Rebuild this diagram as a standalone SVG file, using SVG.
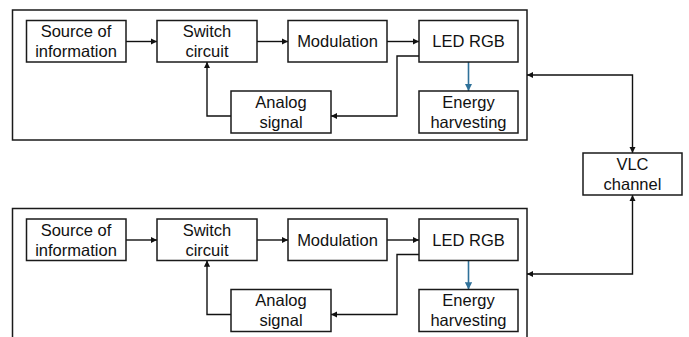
<svg xmlns="http://www.w3.org/2000/svg" width="689" height="337" viewBox="0 0 689 337">
<defs>
<marker id="ah" viewBox="0 0 10 10" refX="10" refY="5" markerWidth="4.5" markerHeight="4.5" orient="auto-start-reverse" markerUnits="strokeWidth">
<path d="M0,0 L10,5 L0,10 z" fill="#111"/>
</marker>
<marker id="ahb" viewBox="0 0 10 10" refX="10" refY="5" markerWidth="4.5" markerHeight="4.5" orient="auto" markerUnits="strokeWidth">
<path d="M0,0 L10,5 L0,10 z" fill="#2f7199"/>
</marker>
<style>
.box{fill:#fff;stroke:#1a1a1a;stroke-width:1.5}
.frame{fill:none;stroke:#1a1a1a;stroke-width:1.5}
.t{font-family:"Liberation Sans",Arial,sans-serif;font-size:16.5px;fill:#111;text-anchor:middle}
.c{fill:none;stroke:#111;stroke-width:1.4;marker-end:url(#ah)}
.d{fill:none;stroke:#111;stroke-width:1.4;marker-start:url(#ah);marker-end:url(#ah)}
.b{fill:none;stroke:#2f7199;stroke-width:1.6;marker-end:url(#ahb)}
</style>
</defs>
<rect width="689" height="337" fill="#fff"/>

<g id="frame-top"><rect class="frame" x="12.5" y="10" width="514.5" height="130"/></g>
<g id="frame-bottom"><rect class="frame" x="12.5" y="208.5" width="514.5" height="140"/></g>

<g id="connectors">
<path class="c" d="M126,41.5 H157"/>
<path class="c" d="M257,41.5 H288"/>
<path class="c" d="M387,41.5 H419"/>
<path class="c" d="M419,56 H397 V116 H331"/>
<path class="c" d="M231,116 H207 V62"/>
<path class="b" d="M468.5,62 V91"/>

<path class="c" d="M126,240 H157"/>
<path class="c" d="M257,240 H288"/>
<path class="c" d="M387,240 H419"/>
<path class="c" d="M419,254.5 H397 V314.5 H331"/>
<path class="c" d="M231,314.5 H207 V260.5"/>
<path class="b" d="M468.5,260.5 V289.5"/>

<path class="d" d="M527,75 H632.5 V153"/>
<path class="d" d="M527,274 H632.5 V195"/>
</g>

<g id="source-top"><rect class="box" x="26.5" y="20.5" width="99.5" height="41.5"/><text class="t" x="76" y="37">Source of</text><text class="t" x="76" y="57">information</text></g>
<g id="switch-top"><rect class="box" x="157" y="20.5" width="100" height="41.5"/><text class="t" x="207" y="37">Switch</text><text class="t" x="207" y="57">circuit</text></g>
<g id="modulation-top"><rect class="box" x="288" y="20.5" width="99" height="41.5"/><text class="t" x="337.5" y="47">Modulation</text></g>
<g id="led-top"><rect class="box" x="419" y="20.5" width="99" height="41.5"/><text class="t" x="468.5" y="47">LED RGB</text></g>
<g id="analog-top"><rect class="box" x="231" y="91" width="100" height="42"/><text class="t" x="281" y="107.5">Analog</text><text class="t" x="281" y="127.5">signal</text></g>
<g id="energy-top"><rect class="box" x="419" y="91" width="99" height="42"/><text class="t" x="468.5" y="107.5">Energy</text><text class="t" x="468.5" y="127.5">harvesting</text></g>

<g id="vlc"><rect class="box" x="583" y="153" width="99" height="42"/><text class="t" x="632.5" y="169.5">VLC</text><text class="t" x="632.5" y="189.5">channel</text></g>

<g id="source-bottom"><rect class="box" x="26.5" y="219" width="99.5" height="41.5"/><text class="t" x="76" y="235.5">Source of</text><text class="t" x="76" y="255.5">information</text></g>
<g id="switch-bottom"><rect class="box" x="157" y="219" width="100" height="41.5"/><text class="t" x="207" y="235.5">Switch</text><text class="t" x="207" y="255.5">circuit</text></g>
<g id="modulation-bottom"><rect class="box" x="288" y="219" width="99" height="41.5"/><text class="t" x="337.5" y="245.5">Modulation</text></g>
<g id="led-bottom"><rect class="box" x="419" y="219" width="99" height="41.5"/><text class="t" x="468.5" y="245.5">LED RGB</text></g>
<g id="analog-bottom"><rect class="box" x="231" y="289.5" width="100" height="42"/><text class="t" x="281" y="306">Analog</text><text class="t" x="281" y="326">signal</text></g>
<g id="energy-bottom"><rect class="box" x="419" y="289.5" width="99" height="42"/><text class="t" x="468.5" y="306">Energy</text><text class="t" x="468.5" y="326">harvesting</text></g>
</svg>
